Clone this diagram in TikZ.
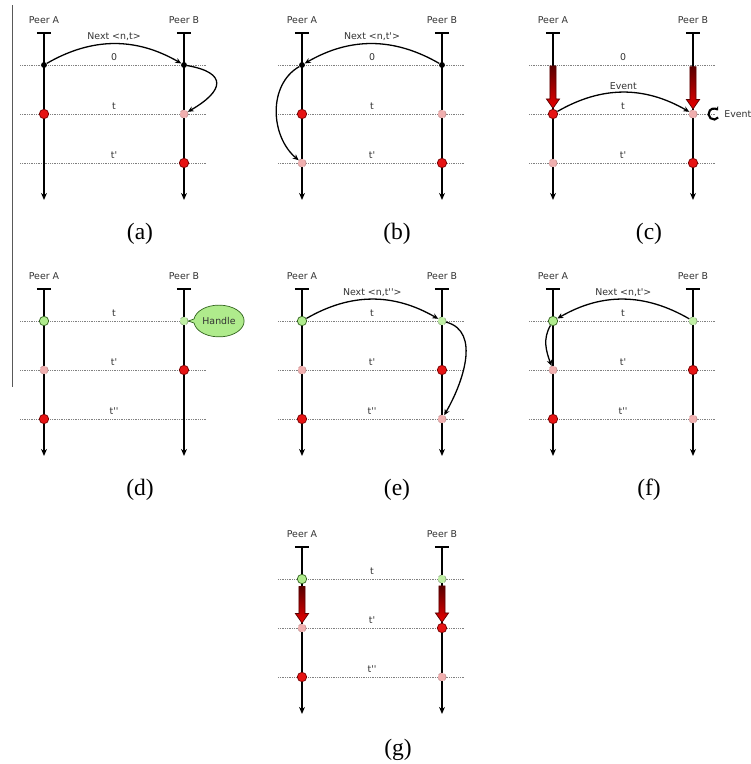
\documentclass[tikz,border=0pt]{standalone}
\usepackage{fontspec}
\setmainfont{Liberation Serif}
\newfontfamily\labelfont{DejaVu Sans}
\usetikzlibrary{arrows.meta,positioning,shapes.callouts,shapes.arrows}
\definecolor{dotred}{RGB}{230,20,20}
\definecolor{dotredline}{RGB}{120,0,0}
\definecolor{dotpink}{RGB}{240,175,175}
\definecolor{dotgreen}{RGB}{175,235,140}
\definecolor{dotgreenline}{RGB}{50,100,30}
\definecolor{eventred}{RGB}{235,0,0}
\definecolor{eventdark}{RGB}{90,0,0}

\begin{document}
\begin{tikzpicture}[x=0.85pt,y=0.85pt,
    lbl/.style={font=\labelfont\fontsize{8}{9}\selectfont,text=black!80,inner sep=1pt},
    caption/.style={font=\fontsize{20}{22}\selectfont},
    life/.style={line width=1.8pt,arrows={Bar[width=12pt]-Stealth[length=6pt,width=5pt]}},
    level/.style={densely dotted,gray,line width=0.5pt},
    black dot/.style={circle,fill=black,inner sep=0pt,minimum size=5pt},
    red dot/.style={circle,fill=dotred,draw=dotredline,line width=0.6pt,inner sep=0pt,minimum size=8pt},
    pink dot/.style={circle,fill=dotpink,draw=dotpink!80!black,dashed,line width=0.5pt,inner sep=0pt,minimum size=7pt},
    green dot/.style={circle,fill=dotgreen,draw=dotgreenline,line width=0.6pt,inner sep=0pt,minimum size=8pt},
    faint dot/.style={circle,fill=dotgreen!80!white,draw=dotgreenline!60,dashed,line width=0.5pt,inner sep=0pt,minimum size=7pt},
    msg/.style={-{Stealth[length=5pt,width=4.5pt]},line width=1.1pt},
    move/.style={single arrow,rotate=-90,anchor=tip,inner xsep=0pt,inner ysep=2.3pt,
                 minimum width=11pt,single arrow head extend=3pt,single arrow tip angle=70,
                 draw=eventdark,line width=0.6pt,top color=eventdark,bottom color=eventred}
]
    \path[use as bounding box,fill=white] (0,0) rectangle (751,-764);

    % left margin rule
    \coordinate (rule-top) at (12,-5);
    \coordinate (rule-bot) at (12,-387);
    \draw[gray!70!black,line width=0.6pt] (rule-top) -- (rule-bot);

    % lifelines and time levels of every panel
    \foreach \p/\x/\y/\la/\lb/\lc in {a/44/32/0/t/t',b/302/32/0/t/t',c/553/32/0/t/t',
        d/44/288/t/t'/t'',e/302/288/t/t'/t'',f/553/288/t/t'/t'',g/302/546/t/t'/t''} {
      \begin{scope}[shift={(\x,-\y)}]
        \node[lbl] (\p-pa) at (0,12) {Peer A};
        \node[lbl] (\p-pb) at (140,12) {Peer B};
        \coordinate (\p-A) at (0,0);
        \coordinate (\p-B) at (140,0);
        \coordinate (\p-Aend) at (0,-168);
        \coordinate (\p-Bend) at (140,-168);
        \foreach \k/\yy/\lab in {1/33/\la,2/82/\lb,3/131/\lc} {
          \coordinate (\p-L\k) at (-24,-\yy);
          \coordinate (\p-R\k) at (163,-\yy);
          \coordinate (\p-A\k) at (0,-\yy);
          \coordinate (\p-B\k) at (140,-\yy);
          \draw[level] (\p-L\k) -- (\p-R\k);
          \node[lbl] (\p-lab\k) at (70,-\yy+8) {\lab};
        }
        \draw[life] (\p-A) -- (\p-Aend);
        \draw[life] (\p-B) -- (\p-Bend);
      \end{scope}
    }

    % (a)
    \node[black dot] (a-ma) at (a-A1) {};
    \node[black dot] (a-mb) at (a-B1) {};
    \node[red dot] (a-ta) at (a-A2) {};
    \node[pink dot] (a-tb) at (a-B2) {};
    \node[red dot] (a-ub) at (a-B3) {};
    \draw[msg] (a-ma) to[out=30,in=150] node[lbl,above=1pt] {Next <n,t>} (a-mb);
    \draw[msg] (a-mb) to[out=-10,in=30,looseness=2.3] (a-tb);

    % (b)
    \node[black dot] (b-ma) at (b-A1) {};
    \node[black dot] (b-mb) at (b-B1) {};
    \node[red dot] (b-ta) at (b-A2) {};
    \node[pink dot] (b-tb) at (b-B2) {};
    \node[pink dot] (b-ua) at (b-A3) {};
    \node[red dot] (b-ub) at (b-B3) {};
    \draw[msg] (b-mb) to[out=150,in=30] node[lbl,above=1pt] {Next <n,t'>} (b-ma);
    \draw[msg] (b-ma) to[out=-150,in=140] (b-ua);

    % (c)
    \node[red dot] (c-ta) at (c-A2) {};
    \node[pink dot] (c-tb) at (c-B2) {};
    \node[pink dot] (c-ua) at (c-A3) {};
    \node[red dot] (c-ub) at (c-B3) {};
    \node[move,minimum height=36pt] (c-ma) at (c-ta.north) {};
    \node[move,minimum height=36pt] (c-mb) at (c-tb.north) {};
    \draw[msg] (c-ta) to[out=30,in=150] node[lbl,above=1pt] {Event} (c-tb);
    \coordinate (c-loop) at (714,-114);
    \draw[line width=1.8pt,-{Stealth[length=3pt,width=4.5pt]}] ([shift={(320:5.5)}]c-loop) arc (320:40:5.5);
    \node[lbl,anchor=west] (c-event) at (723,-114) {Event};

    % (d)
    \node[green dot] (d-ta) at (d-A1) {};
    \node[faint dot] (d-tb) at (d-B1) {};
    \node[pink dot] (d-ua) at (d-A2) {};
    \node[red dot] (d-ub) at (d-B2) {};
    \node[red dot] (d-va) at (d-A3) {};
    \node[lbl,ellipse callout,fill=dotgreen,draw=dotgreenline,line width=0.6pt,
          minimum width=38pt,minimum height=27pt,callout absolute pointer={(d-tb.east)}]
          (d-handle) at (219,-321) {Handle};

    % (e)
    \node[green dot] (e-ta) at (e-A1) {};
    \node[faint dot] (e-tb) at (e-B1) {};
    \node[pink dot] (e-ua) at (e-A2) {};
    \node[red dot] (e-ub) at (e-B2) {};
    \node[red dot] (e-va) at (e-A3) {};
    \node[pink dot] (e-vb) at (e-B3) {};
    \draw[msg] (e-ta) to[out=30,in=150] node[lbl,above=1pt] {Next <n,t''>} (e-tb);
    \draw[msg] (e-tb) to[out=-15,in=60] (e-vb);

    % (f)
    \node[green dot] (f-ta) at (f-A1) {};
    \node[faint dot] (f-tb) at (f-B1) {};
    \node[pink dot] (f-ua) at (f-A2) {};
    \node[red dot] (f-ub) at (f-B2) {};
    \node[red dot] (f-va) at (f-A3) {};
    \node[pink dot] (f-vb) at (f-B3) {};
    \draw[msg] (f-tb) to[out=150,in=30] node[lbl,above=1pt] {Next <n,t'>} (f-ta);
    \draw[msg] (f-ta) to[out=-120,in=110] (f-ua);

    % (g)
    \node[green dot] (g-ta) at (g-A1) {};
    \node[faint dot] (g-tb) at (g-B1) {};
    \node[pink dot] (g-ua) at (g-A2) {};
    \node[red dot] (g-ub) at (g-B2) {};
    \node[red dot] (g-va) at (g-A3) {};
    \node[pink dot] (g-vb) at (g-B3) {};
    \node[move,minimum height=31pt] (g-ma) at (g-ua.north) {};
    \node[move,minimum height=31pt] (g-mb) at (g-ub.north) {};

    % captions
    \node[caption] (cap-a) at (140,-234) {(a)};
    \node[caption] (cap-b) at (397,-234) {(b)};
    \node[caption] (cap-c) at (649,-234) {(c)};
    \node[caption] (cap-d) at (140,-490) {(d)};
    \node[caption] (cap-e) at (397,-490) {(e)};
    \node[caption] (cap-f) at (649,-490) {(f)};
    \node[caption] (cap-g) at (398,-750) {(g)};
\end{tikzpicture}
\end{document}
